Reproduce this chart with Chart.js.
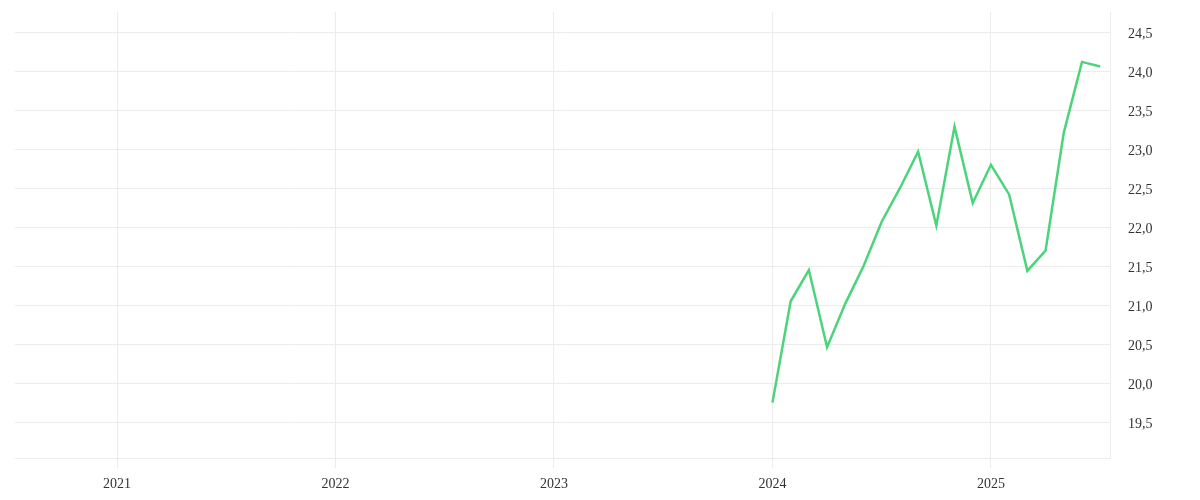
<!DOCTYPE html>
<html>
<head>
<meta charset="utf-8">
<script src="https://cdn.jsdelivr.net/npm/chart.js@4/dist/chart.umd.min.js"></script>
<style>
  html, body { margin: 0; padding: 0; background: #fff; }
  #wrap { width: 1200px; height: 500px; }
</style>
</head>
<body>
<div id="wrap"><canvas id="lineChart"></canvas></div>
<script>
// months from Jan 2024 to Jul 2025
const months = [
  "2024-01", "2024-02", "2024-03", "2024-04", "2024-05", "2024-06",
  "2024-07", "2024-08", "2024-09", "2024-10", "2024-11", "2024-12",
  "2025-01", "2025-02", "2025-03", "2025-04", "2025-05", "2025-06", "2025-07"
];
const values = [
  19.75, 21.05, 21.45, 20.46, 21.02, 21.50,
  22.07, 22.50, 22.97, 22.02, 23.29, 22.31,
  22.80, 22.42, 21.44, 21.70, 23.21, 24.12, 24.06
];
const yearTicks = [2021, 2022, 2023, 2024, 2025];

// month string -> decimal year so it fits on a linear axis
function toYear(m) {
  const parts = m.split("-");
  return Number(parts[0]) + (Number(parts[1]) - 1) / 12;
}

const points = months.map((m, i) => ({ x: toYear(m), y: values[i] }));
const gridColor = "#ececec";
const textColor = "#333";

Chart.defaults.font.family = "'Liberation Serif', serif";
Chart.defaults.font.size = 14;
Chart.defaults.color = textColor;

new Chart(document.getElementById("lineChart").getContext("2d"), {
  type: "line",
  data: {
    datasets: [
      {
        data: points,
        borderColor: "#4cd47b",
        borderWidth: 2.5,
        pointRadius: 0,
        tension: 0,
        fill: false,
      },
    ],
  },
  options: {
    responsive: true,
    maintainAspectRatio: false,
    animation: false,
    layout: { padding: { left: 15, top: 12, right: 0, bottom: 0 } },
    plugins: {
      legend: { display: false },
      tooltip: { enabled: false },
    },
    scales: {
      x: {
        type: "linear",
        min: 2020.533,
        max: 2025.545,
        afterFit: function (scale) {
          scale.height = 42;
          scale.paddingLeft = 0;
          scale.paddingRight = 0;
        },
        afterBuildTicks: function (scale) {
          scale.ticks = yearTicks.map((v) => ({ value: v }));
        },
        ticks: {
          padding: 8,
          maxRotation: 0,
          callback: function (v) {
            return String(v);
          },
        },
        grid: { color: gridColor, tickLength: 10 },
        border: { color: gridColor },
      },
      y: {
        position: "right",
        min: 19.04,
        max: 24.76,
        afterFit: function (scale) {
          scale.width = 90;
          scale.paddingTop = 0;
          scale.paddingBottom = 0;
        },
        ticks: {
          stepSize: 0.5,
          includeBounds: false,
          padding: 18,
          labelOffset: 2,
          callback: function (v) {
            return v.toFixed(1).replace(".", ",");
          },
        },
        grid: { color: gridColor, drawTicks: false },
        border: { color: gridColor },
      },
    },
  },
});
</script>
</body>
</html>
